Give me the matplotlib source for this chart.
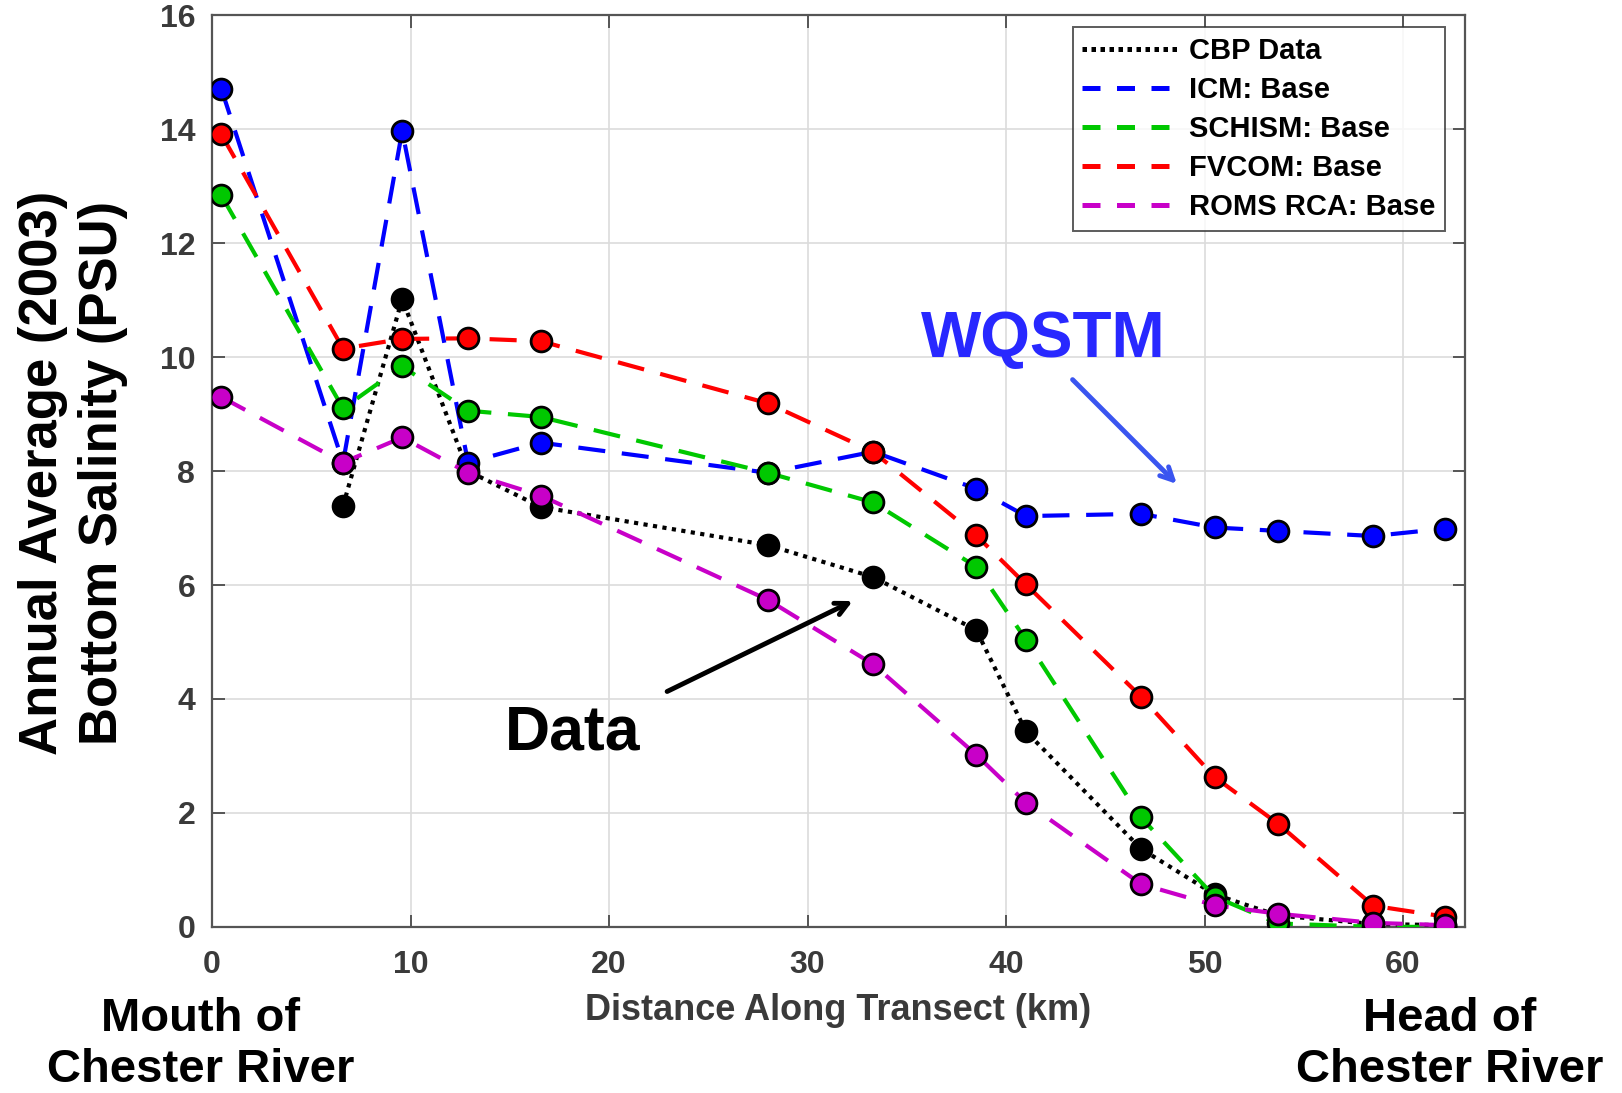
import matplotlib
matplotlib.use("Agg")
import matplotlib.pyplot as plt

# ---- data ----
distance_km = [0.47, 6.6, 9.58, 12.9, 16.56, 28.0, 33.3, 38.5, 41.0, 46.8, 50.5, 53.7, 58.5, 62.1]
cbp_x = distance_km[1:]
cbp_data = [7.39, 11.02, 8.0, 7.37, 6.70, 6.14, 5.21, 3.43, 1.37, 0.57, 0.2, 0.05, 0.03]
icm_base = [14.71, 8.15, 13.97, 8.15, 8.5, 7.97, 8.34, 7.69, 7.21, 7.25, 7.01, 6.95, 6.86, 6.99]
schism_base = [12.84, 9.1, 9.84, 9.06, 8.95, 7.97, 7.45, 6.32, 5.04, 1.92, 0.53, 0.06, 0.0, 0.0]
fvcom_base = [13.91, 10.15, 10.32, 10.33, 10.28, 9.19, 8.34, 6.87, 6.01, 4.04, 2.63, 1.81, 0.37, 0.18]
roms_base = [9.3, 8.15, 8.59, 7.97, 7.57, 5.74, 4.61, 3.02, 2.18, 0.75, 0.38, 0.23, 0.07, 0.03]

series_labels = ["CBP Data", "ICM: Base", "SCHISM: Base", "FVCOM: Base", "ROMS RCA: Base"]
x_ticks = [0, 10, 20, 30, 40, 50, 60]
y_ticks = [0, 2, 4, 6, 8, 10, 12, 14, 16]

plt.rcParams['font.family'] = ['Liberation Sans', 'DejaVu Sans']
plt.rcParams['font.weight'] = 'bold'

fig = plt.figure(figsize=(16.22, 10.93), dpi=100)
ax = fig.add_axes([0.1307, 0.152, 0.7723, 0.834])

tick_gray = '#3a3a3a'
lw = 3.0
dash = (0, (6.5, 4.0))
dots = (0, (1.0, 1.3))
ms = 15
mew = 2.0

colors = ['black', '#0000ff', '#00c800', '#ff0000', '#c800c8']
series_x = [cbp_x, distance_km, distance_km, distance_km, distance_km]
series_y = [cbp_data, icm_base, schism_base, fvcom_base, roms_base]
styles = [dots, dash, dash, dash, dash]

for i, (xs, ys) in enumerate(zip(series_x, series_y)):
    ax.plot(xs, ys, color=colors[i], lw=lw, linestyle=styles[i],
            dash_capstyle='butt', marker='o', ms=ms, mfc=colors[i], mec='black',
            mew=mew, zorder=3 + i)

ax.set_xlim(0, 63.1)
ax.set_ylim(0, 16)
ax.set_xticks(x_ticks)
ax.set_yticks(y_ticks)
ax.grid(True, color='#dcdcdc', lw=1.2, zorder=0)
ax.set_axisbelow(True)
for s in ax.spines.values():
    s.set_color('#555555')
    s.set_linewidth(1.6)
ax.tick_params(axis='both', which='both', direction='in', length=9, width=1.4,
               color='#555555', top=True, right=True, labelsize=23,
               labelcolor=tick_gray)
ax.tick_params(axis='x', pad=17)
ax.tick_params(axis='y', pad=12)
for lab in ax.get_xticklabels() + ax.get_yticklabels():
    lab.set_fontweight('bold')

ax.set_xlabel("Distance Along Transect (km)", fontsize=26, fontweight='bold',
              color=tick_gray, labelpad=9)

leg_styles = [(0, (0.9, 0.9)), (0, (3.6, 3.3)), (0, (3.6, 3.3)), (0, (3.6, 3.3)), (0, (3.6, 3.3))]
handles = [plt.Line2D([], [], color=colors[i], lw=3.6, linestyle=leg_styles[i],
                      dash_capstyle='butt') for i in range(5)]
leg = ax.legend(handles=handles, labels=series_labels,
    loc='upper right', bbox_to_anchor=(0.984, 0.987),
    prop={'weight': 'bold', 'size': 21}, frameon=True, fancybox=False,
    edgecolor='#333333', handlelength=3.3, handletextpad=0.35,
    labelspacing=0.38, borderpad=0.33, borderaxespad=0)
leg.get_frame().set_linewidth(1.4)

# annotations
ax.text(14.75, 3.11, "Data", fontsize=45, fontweight='bold', color='black', zorder=10)
ax.annotate("", xy=(32.4, 5.74), xytext=(22.8, 4.11),
            arrowprops=dict(arrowstyle='->,head_length=0.9,head_width=0.45',
                            color='black', lw=3.5), zorder=10)
ax.text(35.7, 10.0, "WQSTM", fontsize=46, fontweight='bold', color='#2828ff', zorder=10)
ax.annotate("", xy=(48.7, 7.74), xytext=(43.25, 9.64),
            arrowprops=dict(arrowstyle='->,head_length=0.9,head_width=0.45',
                            color='#3a55f0', lw=3.5), zorder=10)

# y label (two lines)
fig.text(0.0268, 0.567, "Annual Average (2003)", rotation=90, fontsize=38,
         fontweight='bold', ha='center', va='center', color='black')
fig.text(0.0638, 0.567, "Bottom Salinity (PSU)", rotation=90, fontsize=38,
         fontweight='bold', ha='center', va='center', color='black')

# end labels
fig.text(0.1237, 0.057, "Mouth of", fontsize=34, fontweight='bold', ha='center',
         va='baseline', color='black')
fig.text(0.1237, 0.010, "Chester River", fontsize=34, fontweight='bold', ha='center',
         va='baseline', color='black')
fig.text(0.8935, 0.057, "Head of", fontsize=34, fontweight='bold', ha='center',
         va='baseline', color='black')
fig.text(0.8935, 0.010, "Chester River", fontsize=34, fontweight='bold', ha='center',
         va='baseline', color='black')

fig.savefig("out.png", dpi=100, facecolor='white')
